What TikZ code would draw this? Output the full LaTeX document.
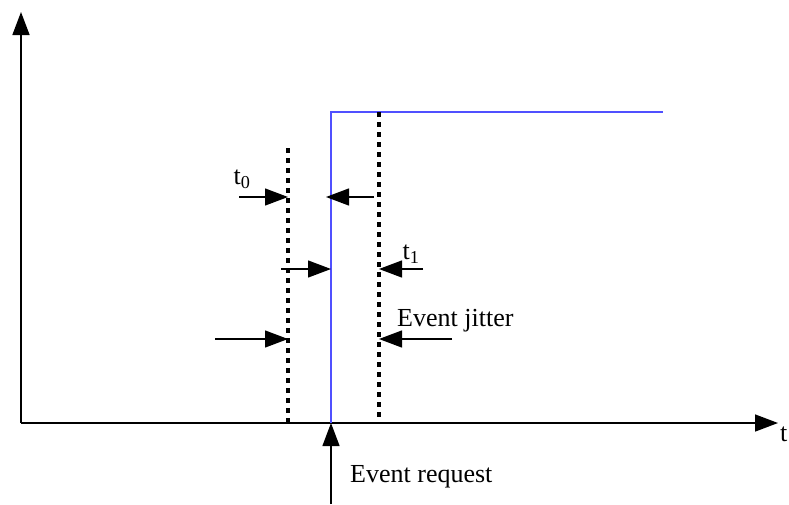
\documentclass[tikz,border=0pt]{standalone}
\usepackage{fontspec}
\setmainfont{Liberation Serif}
\usetikzlibrary{arrows.meta}
\definecolor{stepblue}{RGB}{80,80,255}

\begin{document}
\begin{tikzpicture}[x=1pt, y=-1pt, >={Triangle[length=23pt,width=17pt]},
    font=\fontsize{26}{30}\selectfont,
    axis/.style={line width=1.5pt},
    marker/.style={line width=1.3pt, ->},
    jitterline/.style={line width=3.2pt, dash pattern=on 5pt off 5pt}]
  \useasboundingbox (0,0) rectangle (789,504);
  % axes
  \coordinate (O) at (21,423);
  \coordinate (ytip) at (21,12);
  \coordinate (xtip) at (778,423);
  \draw[axis, ->] (O) -- (ytip);
  \draw[axis, ->] (O) -- (xtip);
  \node[anchor=west, inner sep=0pt] (tlabel) at (780,434) {t};
  % signal step
  \coordinate (s0) at (331,423);
  \coordinate (s1) at (331,112);
  \coordinate (s2) at (663,112);
  \draw[line width=1.6pt, stepblue] (s0) -- (s1) -- (s2);
  % jitter window
  \coordinate (ja) at (288,148);
  \coordinate (jb) at (288,423);
  \coordinate (jc) at (379,112);
  \coordinate (jd) at (379,423);
  \draw[jitterline] (ja) -- (jb);
  \draw[jitterline] (jc) -- (jd);
  % markers
  \coordinate (a0) at (239,197);  \coordinate (a1) at (288,197);
  \coordinate (b0) at (374,197);  \coordinate (b1) at (326,197);
  \coordinate (c0) at (281,269);  \coordinate (c1) at (331,269);
  \coordinate (d0) at (423,269);  \coordinate (d1) at (379,269);
  \coordinate (e0) at (215,339);  \coordinate (e1) at (288,339);
  \coordinate (f0) at (452,339);  \coordinate (f1) at (379,339);
  \foreach \p in {a,b,c,d,e,f}
    \draw[marker] (\p0) -- (\p1);
  \node[inner sep=0pt] (tzero) at (242,179) {t\textsubscript{0}};
  \node[inner sep=0pt] (tone) at (411,254) {t\textsubscript{1}};
  \node[anchor=west, inner sep=0pt] (jitter) at (397,321) {Event jitter};
  % request
  \coordinate (r0) at (331,504);
  \draw[marker] (r0) -- (s0);
  \node[anchor=west, inner sep=0pt] (request) at (350,477) {Event request};
\end{tikzpicture}
\end{document}
